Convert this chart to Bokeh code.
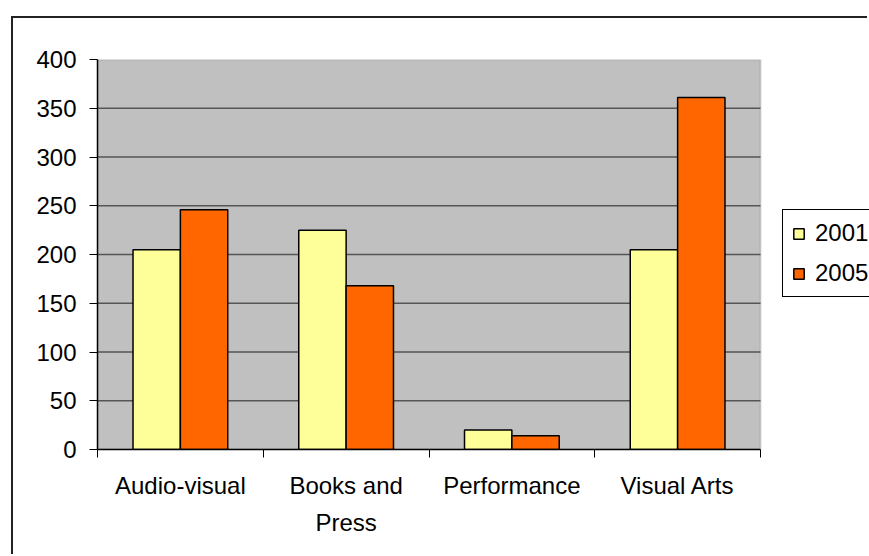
from bokeh.plotting import figure
from bokeh.models import ColumnDataSource, FixedTicker, Legend, LegendItem, Range1d, BoxAnnotation
from bokeh.transform import dodge
from bokeh.embed import file_html
from bokeh.resources import INLINE

categories = ["Audio-visual", "Books and Press", "Performance", "Visual Arts"]
tick_labels = ["Audio-visual", "Books and\nPress", "Performance", "Visual Arts"]
series_names = ["2001", "2005"]
values_2001 = [205, 225, 20, 205]
values_2005 = [246, 168, 14, 361]
y_ticks = [0, 50, 100, 150, 200, 250, 300, 350, 400]

FONT = "Liberation Sans"
FS = "24px"

n = len(categories)
centers = [i + 0.5 for i in range(n)]
bounds = [i for i in range(n + 1)]
y_max = y_ticks[-1]

src = ColumnDataSource(data=dict(x=centers, v2001=values_2001, v2005=values_2005))

W, H = 856, 538
LEFT, TOP, BOTTOM = 84, 41, 107
PLOT_W = 663  # pixel width of the grey plot area
x_end = n * (W - LEFT) / PLOT_W

p = figure(width=W, height=H, output_backend="svg", toolbar_location=None,
           x_range=Range1d(0, x_end), y_range=Range1d(0, y_max),
           min_border_left=LEFT, min_border_right=0, min_border_top=TOP, min_border_bottom=BOTTOM)
p.styles = {"margin-left": "11px", "margin-top": "16px",
            "border-left": "2px solid #222222", "border-top": "2px solid #222222"}

p.background_fill_color = "white"
p.border_fill_color = "white"
p.outline_line_color = None

plot_area = BoxAnnotation(left=0, right=n, bottom=0, top=y_max,
                          fill_color="#C0C0C0", fill_alpha=1,
                          line_color="#808080", line_width=2, level="underlay")
p.add_layout(plot_area)

grid_vals = [t for t in y_ticks if 0 < t < y_max]
p.segment(x0=[0] * len(grid_vals), x1=[n] * len(grid_vals), y0=grid_vals, y1=grid_vals,
          line_color="#555555", line_width=1.5)

bw = 1 / 1.75 / 2
r1 = p.vbar(x=dodge("x", -bw / 2, range=p.x_range), top="v2001", width=bw, source=src,
            fill_color="#FFFF99", line_color="black", line_width=1.5)
r2 = p.vbar(x=dodge("x", bw / 2, range=p.x_range), top="v2005", width=bw, source=src,
            fill_color="#FF6600", line_color="black", line_width=1.5)

# x axis
p.xaxis.bounds = (0, n)
p.xaxis.ticker = FixedTicker(ticks=centers, minor_ticks=bounds)
p.xaxis.major_label_overrides = {c: t for c, t in zip(centers, tick_labels)}
p.xaxis.major_tick_out = 0
p.xaxis.major_tick_in = 0
p.xaxis.minor_tick_out = 8
p.xaxis.minor_tick_in = 0
p.xaxis.minor_tick_line_color = "black"
p.xaxis.axis_line_color = "black"
p.xaxis.axis_line_width = 1.5
p.xaxis.major_label_text_font = FONT
p.xaxis.major_label_text_font_size = FS
p.xaxis.major_label_text_color = "black"
p.xaxis.major_label_text_line_height = 1.4
p.xaxis.major_label_standoff = 14
p.xgrid.visible = False
p.ygrid.visible = False

# y axis
p.yaxis.ticker = FixedTicker(ticks=y_ticks)
p.yaxis.major_tick_out = 8
p.yaxis.major_tick_in = 0
p.yaxis.minor_tick_line_color = None
p.yaxis.major_tick_line_color = "black"
p.yaxis.axis_line_color = "black"
p.yaxis.axis_line_width = 1.5
p.yaxis.major_label_text_font = FONT
p.yaxis.major_label_text_font_size = FS
p.yaxis.major_label_text_color = "black"
p.yaxis.major_label_standoff = 13

legend = Legend(items=[LegendItem(label=series_names[0], renderers=[r1]),
                       LegendItem(label=series_names[1], renderers=[r2])],
                location=(685, 152))
legend.label_text_font = FONT
legend.label_text_font_size = FS
legend.label_text_color = "black"
legend.glyph_width = 13
legend.glyph_height = 13
legend.label_standoff = 10
legend.padding = 9
legend.spacing = 12
legend.margin = 0
legend.border_line_color = "black"
legend.border_line_alpha = 1
legend.border_line_width = 1
legend.background_fill_color = "white"
legend.background_fill_alpha = 1
p.add_layout(legend, "center")

open("out.html", "w").write(file_html(p, INLINE))
